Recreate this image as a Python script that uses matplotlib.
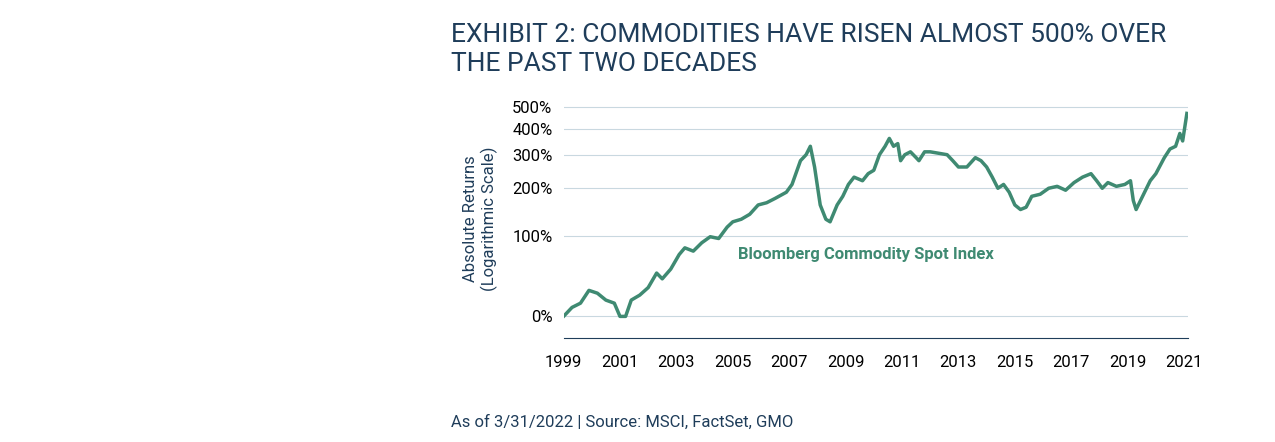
import matplotlib
matplotlib.use("Agg")
import matplotlib.pyplot as plt
import numpy as np

years = [1999.0,1999.3,1999.6,1999.9,2000.2,2000.5,2000.8,2001.0,2001.2,2001.4,2001.7,2002.0,2002.3,2002.5,2002.8,
2003.1,2003.3,2003.6,2003.9,2004.2,2004.5,2004.8,2005.0,2005.3,2005.6,2005.9,2006.2,2006.5,2006.9,2007.1,2007.4,
2007.6,2007.75,2007.9,2008.1,2008.3,2008.45,2008.7,2008.9,2009.1,2009.3,2009.6,2009.8,2010.0,2010.2,2010.4,2010.55,
2010.7,2010.85,2010.95,2011.1,2011.3,2011.5,2011.6,2011.8,2012.0,2012.3,2012.6,2012.8,2013.0,2013.3,2013.6,2013.8,
2014.0,2014.2,2014.4,2014.6,2014.8,2015.0,2015.2,2015.4,2015.6,2015.9,2016.2,2016.5,2016.8,2017.1,2017.4,2017.7,
2017.9,2018.1,2018.3,2018.6,2018.9,2019.1,2019.2,2019.3,2019.6,2019.8,2020.0,2020.3,2020.5,2020.7,2020.85,2020.95,2021.1]
returns = [0,8,12,25,22,15,12,0,0,15,20,28,45,38,50,70,80,75,88,98,95,115,125,130,140,160,165,175,190,210,280,
300,330,260,160,130,125,160,180,210,230,220,240,250,300,330,360,330,340,280,300,310,290,280,310,310,305,300,280,
260,260,290,280,260,230,200,210,190,160,150,155,180,185,200,205,195,215,230,240,220,200,215,205,210,220,170,150,
190,220,240,290,320,330,380,350,470]
yticks = [0,100,200,300,400,500]
xticks = list(range(1999, 2022, 2))

navy = "#1f3d5a"
green = "#3f8a72"
plt.rcParams['font.family'] = ['Roboto', 'DejaVu Sans']

fig = plt.figure(figsize=(12.75, 4.42), dpi=100)
ax = fig.add_axes([0.442, 0.235, 0.49, 0.539])
ax.plot(years, 1 + np.array(returns)/100, color=green, lw=2.5)
ax.set_yscale('log')
ax.set_ylim(0.83, 6.4)
ax.set_xlim(1999, 2021.15)
ax.set_yticks([1 + t/100 for t in yticks])
ax.set_yticklabels([f"{t}%" for t in yticks])
ax.yaxis.set_minor_locator(matplotlib.ticker.NullLocator())
ax.set_xticks(xticks)
ax.tick_params(length=0, labelsize=12, colors='black')
ax.tick_params(axis='x', pad=12)
ax.tick_params(axis='y', pad=8)
for t in yticks:
    ax.axhline(1 + t/100, color='#c9d8e0', lw=0.8, zorder=0)
for s in ['top', 'right', 'left']:
    ax.spines[s].set_visible(False)
ax.spines['bottom'].set_color(navy)
ax.set_ylabel("Absolute Returns\n(Logarithmic Scale)", color=navy, fontsize=12, labelpad=10)
ax.text(2005.2, 1.70, "Bloomberg Commodity Spot Index", color=green, fontsize=12, fontweight='bold', va='center')
fig.text(0.354, 0.84, "EXHIBIT 2: COMMODITIES HAVE RISEN ALMOST 500% OVER\nTHE PAST TWO DECADES",
         color=navy, fontsize=19, linespacing=1.25)
fig.text(0.354, 0.035, "As of 3/31/2022 | Source: MSCI, FactSet, GMO", color=navy, fontsize=12)
fig.savefig("out.png", dpi=100)
